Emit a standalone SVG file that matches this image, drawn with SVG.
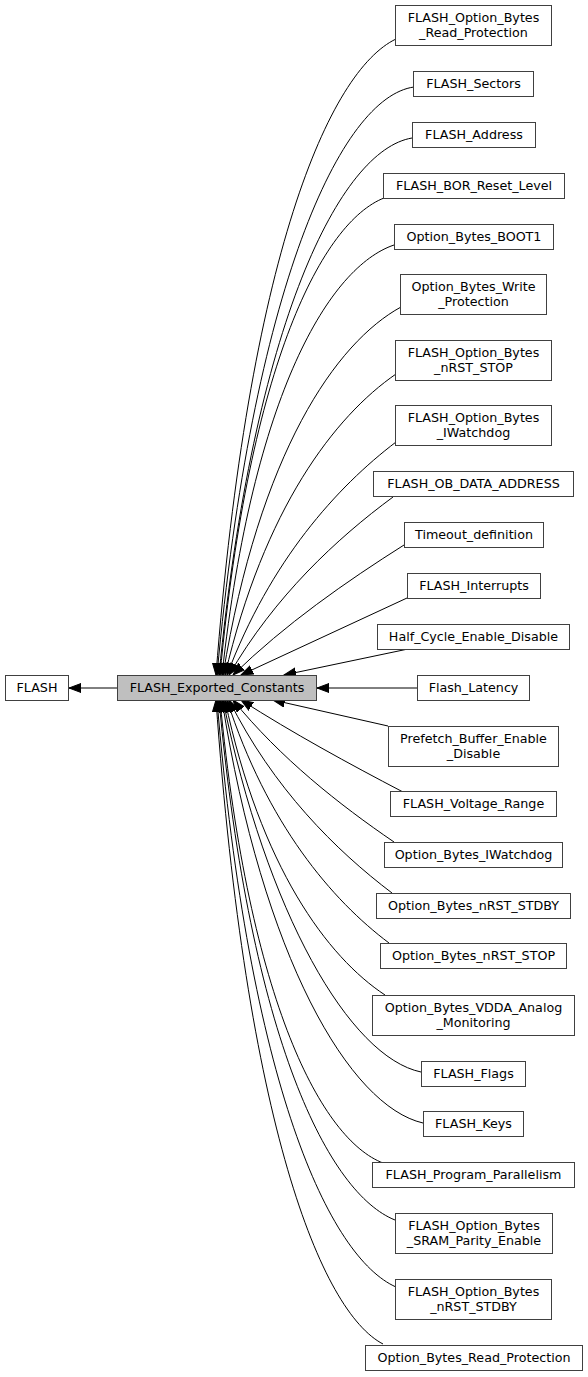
<svg xmlns="http://www.w3.org/2000/svg" width="588" height="1377" viewBox="0 0 588 1377">
<style>
.n rect{fill:#ffffff;stroke:#404040;stroke-width:1}
.n text{font-family:"DejaVu Sans",sans-serif;font-size:12.7px;text-anchor:middle;fill:#000}
.e path{fill:none;stroke:#000;stroke-width:1}
</style>
<defs>
<marker id="ah" markerWidth="14" markerHeight="12" refX="12" refY="5" orient="auto" markerUnits="userSpaceOnUse">
<path d="M0,0.5 L12,5 L0,9.5 Z" fill="#000" stroke="#000" stroke-width="1"/>
</marker>
</defs>
<rect width="588" height="1377" fill="#fff"/>
<g class="e" id="edges" marker-end="url(#ah)">
<path d="M117,688 L69,688"/>
<path d="M396,39 C329.4,70.8 248.4,255.2 216,675"/>
<path d="M414,87 C341.1,97 252.5,286.9 217,675"/>
<path d="M412,138 C340.6,150 253.7,320.6 219,675"/>
<path d="M384,198 C323.3,221.9 249.5,360.2 220,675"/>
<path d="M394,245 C330.4,266.5 253,391.2 222,675"/>
<path d="M401,307 C336.3,342.3 259.5,452 223,675"/>
<path d="M396,374 C334.9,416.1 264,508.2 225,675"/>
<path d="M396,442 C336.9,487 270.3,560.4 227,675"/>
<path d="M393,497 C336.6,538.6 274.7,596.1 229,675"/>
<path d="M404,545 C346.4,581.4 284.8,624.4 233,675"/>
<path d="M407,598 L241,675"/>
<path d="M408,649 L284,675"/>
<path d="M418,688 L317,688"/>
<path d="M388,726 L273,700"/>
<path d="M403,792 C349,763.8 292.4,732.9 241,700"/>
<path d="M394,842 C339.3,804.7 280.3,758.1 233,700"/>
<path d="M392,893 C335.7,850.3 273.3,788.6 229,700"/>
<path d="M389,943 C332,900.2 267.1,824.3 227,700"/>
<path d="M385,995 C327.6,957.2 260.5,867.5 225,700"/>
<path d="M421,1072 C349.8,1057.1 266.4,913.5 223,700"/>
<path d="M423,1123 C349.8,1106.1 262.7,958 222,700"/>
<path d="M383,1163 C322.7,1139.8 249.3,1005.6 220,700"/>
<path d="M395,1220 C329.9,1194 250.7,1043.2 219,700"/>
<path d="M396,1287 C329.8,1257.6 249.2,1087.4 217,700"/>
<path d="M383,1344 C321.2,1311.8 246.1,1125 216,700"/>
</g>
<g class="n" id="node_flash"><rect x="5.5" y="675.5" width="63" height="25"/><text x="37" y="692">FLASH</text></g>
<g class="n" id="node_constants"><rect x="117.5" y="675.5" width="199" height="25" style="fill:#bfbfbf"/><text x="217" y="692">FLASH_Exported_Constants</text></g>
<g class="n" id="node_ob_read_protection"><rect x="395.5" y="5.5" width="156" height="40"/><text x="473.5" y="21.5">FLASH_Option_Bytes</text><text x="473.5" y="36.5">_Read_Protection</text></g>
<g class="n" id="node_sectors"><rect x="413.5" y="71.5" width="120" height="25"/><text x="473.5" y="88">FLASH_Sectors</text></g>
<g class="n" id="node_address"><rect x="412.5" y="122.5" width="123" height="25"/><text x="474" y="139">FLASH_Address</text></g>
<g class="n" id="node_bor"><rect x="383.5" y="173.5" width="181" height="25"/><text x="474" y="190">FLASH_BOR_Reset_Level</text></g>
<g class="n" id="node_boot1"><rect x="394.5" y="224.5" width="159" height="25"/><text x="474" y="241">Option_Bytes_BOOT1</text></g>
<g class="n" id="node_write_protection"><rect x="400.5" y="274.5" width="146" height="40"/><text x="473.5" y="290.5">Option_Bytes_Write</text><text x="473.5" y="305.5">_Protection</text></g>
<g class="n" id="node_ob_nrst_stop"><rect x="395.5" y="340.5" width="156" height="40"/><text x="473.5" y="356.5">FLASH_Option_Bytes</text><text x="473.5" y="371.5">_nRST_STOP</text></g>
<g class="n" id="node_ob_iwatchdog"><rect x="395.5" y="405.5" width="156" height="40"/><text x="473.5" y="421.5">FLASH_Option_Bytes</text><text x="473.5" y="436.5">_IWatchdog</text></g>
<g class="n" id="node_ob_data_address"><rect x="373.5" y="471.5" width="200" height="25"/><text x="473.5" y="488">FLASH_OB_DATA_ADDRESS</text></g>
<g class="n" id="node_timeout"><rect x="404.5" y="522.5" width="139" height="25"/><text x="474" y="539">Timeout_definition</text></g>
<g class="n" id="node_interrupts"><rect x="407.5" y="573.5" width="133" height="25"/><text x="474" y="590">FLASH_Interrupts</text></g>
<g class="n" id="node_half_cycle"><rect x="377.5" y="624.5" width="192" height="25"/><text x="473.5" y="641">Half_Cycle_Enable_Disable</text></g>
<g class="n" id="node_latency"><rect x="417.5" y="675.5" width="112" height="25"/><text x="473.5" y="692">Flash_Latency</text></g>
<g class="n" id="node_prefetch"><rect x="388.5" y="726.5" width="170" height="40"/><text x="473.5" y="742.5">Prefetch_Buffer_Enable</text><text x="473.5" y="757.5">_Disable</text></g>
<g class="n" id="node_voltage"><rect x="390.5" y="791.5" width="166" height="25"/><text x="473.5" y="808">FLASH_Voltage_Range</text></g>
<g class="n" id="node_opt_iwatchdog"><rect x="384.5" y="842.5" width="178" height="25"/><text x="473.5" y="859">Option_Bytes_IWatchdog</text></g>
<g class="n" id="node_opt_nrst_stdby"><rect x="376.5" y="893.5" width="194" height="25"/><text x="473.5" y="910">Option_Bytes_nRST_STDBY</text></g>
<g class="n" id="node_opt_nrst_stop"><rect x="380.5" y="943.5" width="186" height="25"/><text x="473.5" y="960">Option_Bytes_nRST_STOP</text></g>
<g class="n" id="node_vdda"><rect x="372.5" y="995.5" width="202" height="40"/><text x="473.5" y="1011.5">Option_Bytes_VDDA_Analog</text><text x="473.5" y="1026.5">_Monitoring</text></g>
<g class="n" id="node_flags"><rect x="421.5" y="1061.5" width="104" height="25"/><text x="473.5" y="1078">FLASH_Flags</text></g>
<g class="n" id="node_keys"><rect x="423.5" y="1111.5" width="100" height="25"/><text x="473.5" y="1128">FLASH_Keys</text></g>
<g class="n" id="node_parallelism"><rect x="372.5" y="1162.5" width="202" height="25"/><text x="473.5" y="1179">FLASH_Program_Parallelism</text></g>
<g class="n" id="node_sram_parity"><rect x="395.5" y="1213.5" width="157" height="40"/><text x="474" y="1229.5">FLASH_Option_Bytes</text><text x="474" y="1244.5">_SRAM_Parity_Enable</text></g>
<g class="n" id="node_ob_nrst_stdby"><rect x="395.5" y="1279.5" width="156" height="40"/><text x="473.5" y="1295.5">FLASH_Option_Bytes</text><text x="473.5" y="1310.5">_nRST_STDBY</text></g>
<g class="n" id="node_opt_read_protection"><rect x="365.5" y="1345.5" width="217" height="25"/><text x="474" y="1362">Option_Bytes_Read_Protection</text></g>
</svg>
